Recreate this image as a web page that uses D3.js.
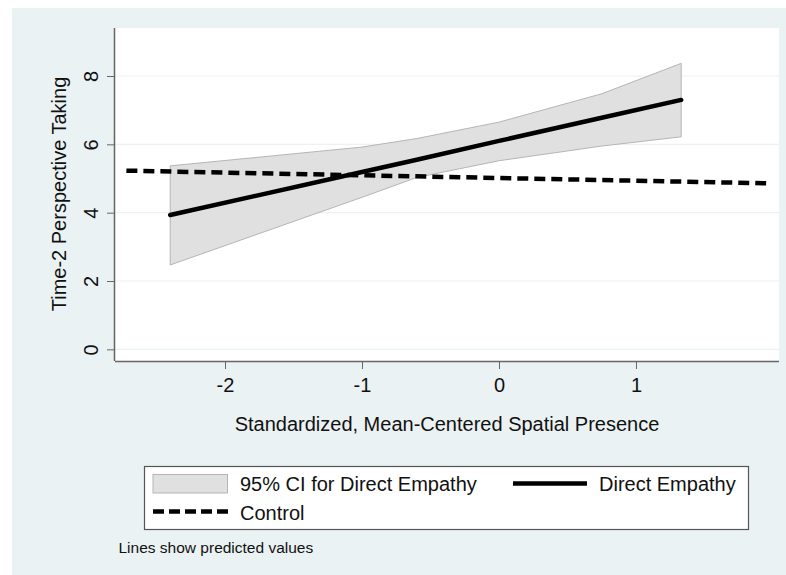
<!DOCTYPE html>
<html><head><meta charset="utf-8">
<script src="https://cdn.jsdelivr.net/npm/d3@7"></script>
<style>
html,body{margin:0;padding:0;background:#fff;}
svg{display:block;font-family:"Liberation Sans",Arial,sans-serif;}
</style></head>
<body><svg id="chart" width="786" height="575"></svg>
<script>
// ---- data ----
const ciX      = [-2.4, -1.0, -0.6, 0.0, 0.75, 1.33];
const ciUpper  = [5.37, 5.92, 6.17, 6.65, 7.48, 8.37];
const ciLower  = [2.47, 4.45, 5.03, 5.52, 5.95, 6.22];
const directY  = [3.93, 5.19, 5.55, 6.10, 6.78, 7.30];
const controlX = [-2.72, 1.95];
const controlY = [5.23, 4.86];
const xTicks = [-2, -1, 0, 1];
const yTicks = [0, 2, 4, 6, 8];
const legendLabels = ["95% CI for Direct Empathy", "Direct Empathy", "Control"];
const xTitle = "Standardized, Mean-Centered Spatial Presence";
const yTitle = "Time-2 Perspective Taking";
const note = "Lines show predicted values";

// ---- layout ----
const svg = d3.select("#chart");
const bg = "#eaf2f3";
const plot = {left:115, right:779, top:28, bottom:361};

svg.append("rect").attr("x",12).attr("y",8).attr("width",786-12).attr("height",575-8).attr("fill",bg);
svg.append("rect").attr("x",plot.left).attr("y",plot.top).attr("width",plot.right-plot.left).attr("height",plot.bottom-plot.top).attr("fill","#fff");

const x = d3.scaleLinear().domain([-2.803, 2.044]).range([plot.left, plot.right]);
const y = d3.scaleLinear().domain([-0.341, 9.405]).range([plot.bottom, plot.top]);

// gridlines
svg.append("g").selectAll("line").data(yTicks).join("line")
  .attr("x1",plot.left).attr("x2",plot.right)
  .attr("y1",d=>y(d)).attr("y2",d=>y(d))
  .attr("stroke",bg).attr("stroke-width",1.2);

// CI area
const ciData = ciX.map((v,i)=>({x:v, lo:ciLower[i], hi:ciUpper[i], m:directY[i]}));
svg.append("path").datum(ciData)
  .attr("d", d3.area().x(d=>x(d.x)).y0(d=>y(d.lo)).y1(d=>y(d.hi)))
  .attr("fill","#e0e0e0").attr("stroke","#b5b5b5").attr("stroke-width",1);

// control dashed
const ctl = controlX.map((v,i)=>({x:v,y:controlY[i]}));
svg.append("path").datum(ctl)
  .attr("d", d3.line().x(d=>x(d.x)).y(d=>y(d.y)))
  .attr("fill","none").attr("stroke","#000").attr("stroke-width",4.5)
  .attr("stroke-dasharray","11,6");

// direct line
svg.append("path").datum(ciData)
  .attr("d", d3.line().x(d=>x(d.x)).y(d=>y(d.m)))
  .attr("fill","none").attr("stroke","#000").attr("stroke-width",4.5).attr("stroke-linecap","round");

// axes
const axisColor = "#666";
const xAxis = svg.append("g").attr("transform",`translate(0,${plot.bottom})`)
  .call(d3.axisBottom(x).tickValues(xTicks).tickSize(8).tickPadding(6).tickFormat(d3.format("d")));
xAxis.select(".domain").attr("d",`M${plot.left},0.5H${plot.right}`).attr("stroke",axisColor).attr("stroke-width",1.5);
xAxis.selectAll(".tick line").attr("stroke",axisColor);
xAxis.selectAll(".tick text").attr("font-size",20).attr("fill","#111").attr("dy",null).attr("y",31).attr("font-family","Liberation Sans, Arial, sans-serif")
  .text(d=>d<0? "-"+Math.abs(d) : d);

const yAxis = svg.append("g").attr("transform",`translate(${plot.left},0)`)
  .call(d3.axisLeft(y).tickValues(yTicks).tickSize(8).tickFormat(d3.format("d")));
yAxis.select(".domain").attr("d",`M-0.5,${plot.top}V${plot.bottom}`).attr("stroke",axisColor).attr("stroke-width",1.5);
yAxis.selectAll(".tick line").attr("stroke",axisColor);
yAxis.selectAll(".tick text")
  .attr("font-size",20).attr("fill","#111").attr("font-family","Liberation Sans, Arial, sans-serif")
  .attr("x",null).attr("dy",null)
  .attr("text-anchor","middle")
  .attr("transform","translate(-17,0) rotate(-90)")
  .attr("y",0);

// axis titles
svg.append("text").attr("x",(plot.left+plot.right)/2 - 0).attr("y",431)
  .attr("text-anchor","middle").attr("font-size",20).attr("fill","#111").text(xTitle);
svg.append("text").attr("transform",`translate(65.5,194) rotate(-90)`)
  .attr("text-anchor","middle").attr("font-size",20).attr("fill","#111").text(yTitle);

// legend
const lg = svg.append("g");
lg.append("rect").attr("x",144.5).attr("y",466.5).attr("width",604).attr("height",63)
  .attr("fill","#fff").attr("stroke","#555").attr("stroke-width",1.2);
lg.append("rect").attr("x",153).attr("y",474.5).attr("width",74.5).attr("height",18.5)
  .attr("fill","#e0e0e0").attr("stroke","#b5b5b5").attr("stroke-width",1);
lg.append("text").attr("x",240).attr("y",491).attr("font-size",20).attr("fill","#111").text(legendLabels[0]);
lg.append("line").attr("x1",513).attr("x2",587).attr("y1",483.5).attr("y2",483.5)
  .attr("stroke","#000").attr("stroke-width",4.5);
lg.append("text").attr("x",599).attr("y",491).attr("font-size",20).attr("fill","#111").text(legendLabels[1]);
lg.append("line").attr("x1",153).attr("x2",228).attr("y1",511.5).attr("y2",511.5)
  .attr("stroke","#000").attr("stroke-width",4.5).attr("stroke-dasharray","11,5");
lg.append("text").attr("x",240).attr("y",519.5).attr("font-size",20).attr("fill","#111").text(legendLabels[2]);

// note
svg.append("text").attr("x",118.5).attr("y",553).attr("font-size",15.5).attr("fill","#111").text(note);
</script></body></html>
